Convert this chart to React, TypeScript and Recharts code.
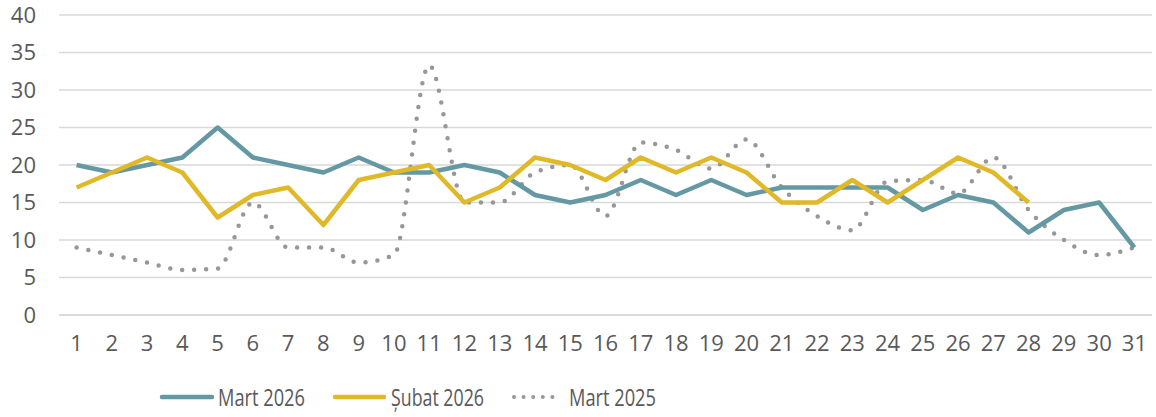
import React from "react";
import { LineChart, Line, XAxis, YAxis, CartesianGrid, Legend } from "recharts";

const days = ["1","2","3","4","5","6","7","8","9","10","11","12","13","14","15","16","17","18","19","20","21","22","23","24","25","26","27","28","29","30","31"];
const mart2026 = [20,19,20,21,25,21,20,19,21,19,19,20,19,16,15,16,18,16,18,16,17,17,17,17,14,16,15,11,14,15,9];
const subat2026 = [17,19,21,19,13,16,17,12,18,19,20,15,17,21,20,18,21,19,21,19,15,15,18,15,18,21,19,15];
const mart2025 = [9,8,7,6,6.2,15,9,9,7,8,33.3,15,15,19,20,13.2,23,22,19.5,23.4,17,13.2,11.3,17.8,18,16.2,21,14,10,8,9];
const yTicks = [0,5,10,15,20,25,30,35,40];

const seriesNames = ["Mart 2026", "Șubat 2026", "Mart 2025"];
const colors = ["#6499A3", "#E0B928", "#979797"];

const data = days.map((d, i) => ({
  day: d,
  m26: mart2026[i],
  s26: i < subat2026.length ? subat2026[i] : null,
  m25: mart2025[i],
}));

const FONT = "'Open Sans', Lato, sans-serif";

const LegendContent = () => (
  <svg width={1156} height={37} style={{ display: "block" }}>
    <g fontFamily={FONT} fontSize={23} fill="#595959">
      <line x1={162} y1={17} x2={212} y2={17} stroke={colors[0]} strokeWidth={4.5} strokeLinecap="round" />
      <text x={218} y={26} textLength={87} lengthAdjust="spacingAndGlyphs">{seriesNames[0]}</text>
      <line x1={335} y1={17} x2={384} y2={17} stroke={colors[1]} strokeWidth={4.5} strokeLinecap="round" />
      <text x={391} y={26} textLength={93} lengthAdjust="spacingAndGlyphs">{seriesNames[1]}</text>
      <line x1={514} y1={17} x2={562} y2={17} stroke={colors[2]} strokeWidth={4} strokeLinecap="round" strokeDasharray="0 9.6" />
      <text x={569} y={26} textLength={87} lengthAdjust="spacingAndGlyphs">{seriesNames[2]}</text>
    </g>
  </svg>
);

export default function App() {
  return (
    <div style={{ position: "absolute", left: 0, top: 0, width: 1156, height: 417, background: "#fff" }}>
      <LineChart width={1156} height={417} data={data} margin={{ top: 15, right: 4, bottom: 25, left: 0 }}>
        <CartesianGrid vertical={false} stroke="#d9d9d9" strokeWidth={1.5} />
        <XAxis
          dataKey="day"
          tickLine={false}
          axisLine={{ stroke: "#d9d9d9", strokeWidth: 1.5 }}
          tick={{ fill: "#595959", fontSize: 22, fontFamily: FONT }}
          tickMargin={14}
          interval={0}
          height={40}
          padding={{ left: 17.6, right: 17.6 }}
        />
        <YAxis
          domain={[0, 40]}
          ticks={yTicks}
          width={59}
          tickLine={false}
          axisLine={false}
          tick={{ fill: "#595959", fontSize: 22, fontFamily: FONT }}
          tickMargin={17}
          interval={0}
        />
        <Line dataKey="m25" name={seriesNames[2]} type="monotone" stroke={colors[2]} strokeWidth={4.5} strokeDasharray="0 12" strokeLinecap="round" dot={false} isAnimationActive={false} />
        <Line dataKey="m26" name={seriesNames[0]} type="linear" stroke={colors[0]} strokeWidth={4.5} strokeLinejoin="round" dot={false} isAnimationActive={false} />
        <Line dataKey="s26" name={seriesNames[1]} type="linear" stroke={colors[1]} strokeWidth={4.5} strokeLinejoin="round" dot={false} isAnimationActive={false} connectNulls={false} />
        <Legend
          content={<LegendContent />}
          wrapperStyle={{ position: "absolute", left: 0, top: 380, width: 1156, height: 37 }}
        />
      </LineChart>
    </div>
  );
}
